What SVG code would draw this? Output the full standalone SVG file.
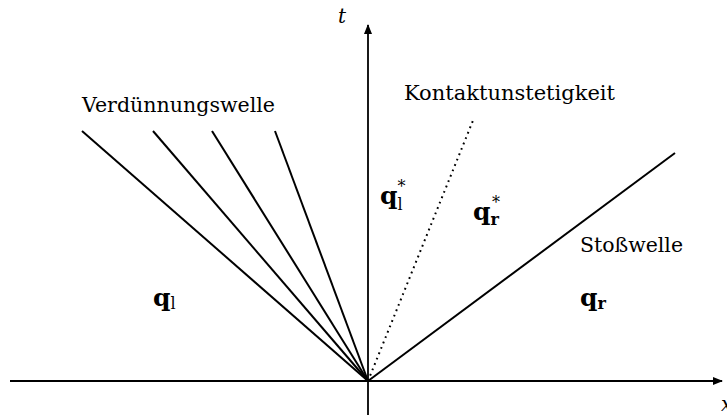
<svg xmlns="http://www.w3.org/2000/svg" width="727" height="416" viewBox="0 0 727 416">
<style>
.ln{stroke:#000;stroke-width:2;fill:none}
.ax{stroke:#000;stroke-width:1.8;fill:none}
.dot{stroke:#000;stroke-width:2;fill:none;stroke-dasharray:1.8 4}
text{font-family:'DejaVu Serif','Liberation Serif',serif;fill:#000}
.lbl{font-size:20px}
.q{font-size:25px;font-weight:bold}
.sub{font-size:16px}
.sup{font-size:16px;font-weight:normal}
</style>
<defs>
<marker id="arr" markerWidth="10" markerHeight="8" refX="9" refY="4" orient="auto" markerUnits="userSpaceOnUse">
<path d="M0,0 L10,4 L0,8 Z" fill="#000"/>
</marker>
</defs>
<rect width="727" height="416" fill="#fff"/>
<g id="axes">
<line class="ax" x1="10" y1="381" x2="722" y2="381" marker-end="url(#arr)"/>
<line class="ax" x1="368" y1="415" x2="368" y2="25" marker-end="url(#arr)"/>
<text class="lbl" x="338" y="23" font-style="italic">t</text>
<text class="lbl" x="721" y="411" font-style="italic">x</text>
</g>
<g id="connectors">
<line class="ln" x1="368" y1="381" x2="82" y2="131"/>
<line class="ln" x1="368" y1="381" x2="153" y2="131"/>
<line class="ln" x1="368" y1="381" x2="212" y2="131"/>
<line class="ln" x1="368" y1="381" x2="275" y2="131"/>
<line class="dot" x1="368" y1="381" x2="474" y2="118"/>
<line class="ln" x1="368" y1="381" x2="675" y2="153"/>
</g>
<g id="verduennungswelle">
<text class="lbl" x="82" y="112" textLength="193" lengthAdjust="spacingAndGlyphs">Verdünnungswelle</text>
</g>
<g id="kontaktunstetigkeit">
<text class="lbl" x="404" y="100" textLength="211" lengthAdjust="spacingAndGlyphs">Kontaktunstetigkeit</text>
</g>
<g id="stosswelle">
<text class="lbl" x="580" y="252" textLength="103" lengthAdjust="spacingAndGlyphs">Stoßwelle</text>
</g>
<g id="ql">
<text class="q" x="153" y="306">q<tspan class="sub" font-weight="normal" dy="3">l</tspan></text>
</g>
<g id="qr">
<text class="q" x="580" y="306">q<tspan class="sub" dy="3">r</tspan></text>
</g>
<g id="qls">
<text class="q" x="380" y="204">q<tspan class="sub" font-weight="normal" dy="6">l</tspan><tspan class="sup" dx="-5" dy="-18">*</tspan></text>
</g>
<g id="qrs">
<text class="q" x="473" y="220">q<tspan class="sub" dy="5">r</tspan><tspan class="sup" dx="-7" dy="-17">*</tspan></text>
</g>
</svg>
